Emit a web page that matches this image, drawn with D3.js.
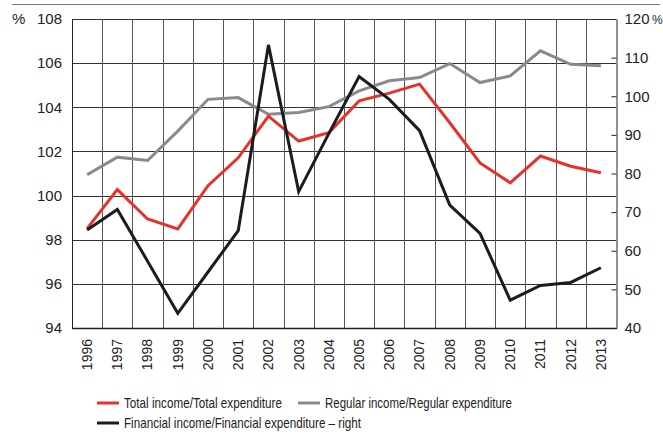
<html>
<head>
<meta charset="utf-8">
<script src="https://cdn.jsdelivr.net/npm/d3@7/dist/d3.min.js"></script>
<style>
  body { margin: 0; background: #fff; }
  text { font-family: "Liberation Sans", sans-serif; fill: #222; }
</style>
</head>
<body>
<script>
var width = 663, height = 437;
var margin = {top: 19, right: 47, bottom: 109, left: 72};

var years = ["1996","1997","1998","1999","2000","2001","2002","2003","2004","2005","2006","2007","2008","2009","2010","2011","2012","2013"];
var totalRatio = [98.5, 100.27, 98.94, 98.49, 100.45, 101.71, 103.6, 102.47, 102.85, 104.29, 104.64, 105.05, 103.3, 101.48, 100.58, 101.79, 101.33, 101.03];
var regularRatio = [100.94, 101.74, 101.59, 102.92, 104.36, 104.44, 103.68, 103.76, 104.03, 104.74, 105.2, 105.35, 105.98, 105.12, 105.42, 106.56, 105.95, 105.88];
var financialRatio = [65.4, 70.7, 57.3, 43.8, 54.5, 65.2, 113.3, 75.3, 90.4, 105.1, 99.2, 91.1, 71.8, 64.5, 47.2, 51.0, 51.8, 55.6];
var leftTicks = [94, 96, 98, 100, 102, 104, 106, 108];
var rightTicks = [40, 50, 60, 70, 80, 90, 100, 110, 120];

var svg = d3.select("body").append("svg")
  .attr("width", width)
  .attr("height", height);

var x0 = margin.left, x1 = width - margin.right;
var y0 = height - margin.bottom, y1 = margin.top;

var x = d3.scaleBand().domain(years).range([x0, x1]);
var yL = d3.scaleLinear().domain([94, 108]).range([y0, y1]);
var yR = d3.scaleLinear().domain([40, 120]).range([y0, y1]);

// top rule
svg.append("line")
  .attr("x1", 12).attr("x2", 660)
  .attr("y1", 4.5).attr("y2", 4.5)
  .attr("stroke", "#777").attr("stroke-width", 1);

// grid - horizontal
svg.append("g").selectAll("line")
  .data(leftTicks)
  .enter().append("line")
  .attr("x1", x0).attr("x2", x1)
  .attr("y1", function(d){ return Math.round(yL(d)) + 0.5; })
  .attr("y2", function(d){ return Math.round(yL(d)) + 0.5; })
  .attr("stroke", "#333").attr("stroke-width", 1);

// grid - vertical, on category boundaries
svg.append("g").selectAll("line")
  .data(years.slice(1))
  .enter().append("line")
  .attr("x1", function(d){ return Math.round(x(d)) + 0.5; })
  .attr("x2", function(d){ return Math.round(x(d)) + 0.5; })
  .attr("y1", y1).attr("y2", y0)
  .attr("stroke", "#555").attr("stroke-width", 1);

// frame
svg.append("line").attr("x1", x0 + 0.5).attr("x2", x0 + 0.5).attr("y1", y1).attr("y2", y0)
  .attr("stroke", "#222");
svg.append("line").attr("x1", x0).attr("x2", x1 + 1).attr("y1", y0 + 0.5).attr("y2", y0 + 0.5)
  .attr("stroke", "#222").attr("stroke-width", 1.5);

// left axis
var leftAxis = svg.append("g")
  .attr("transform", "translate(" + x0 + ",0)")
  .call(d3.axisLeft(yL).tickValues(leftTicks).tickSize(0).tickPadding(10).tickFormat(d3.format("d")));
leftAxis.select(".domain").remove();
leftAxis.selectAll("text").style("font-size", "15px").attr("fill", "#222")
  .style("font-family", "'Liberation Sans', sans-serif");

// right axis
var rightAxis = svg.append("g")
  .attr("transform", "translate(" + (x1 + 0.5) + ",0)")
  .call(d3.axisRight(yR).tickValues(rightTicks).tickSizeInner(-5).tickSizeOuter(0).tickPadding(8)
    .tickFormat(d3.format("d")));
rightAxis.select(".domain").attr("stroke", "#222");
rightAxis.selectAll(".tick line").attr("stroke", "#222");
rightAxis.selectAll("text").style("font-size", "15px").attr("fill", "#222")
  .style("font-family", "'Liberation Sans', sans-serif");

// % unit labels
svg.append("text").attr("x", 12).attr("y", 24).style("font-size", "15px").text("%");
svg.append("text").attr("x", 652).attr("y", yR(120) + 5).style("font-size", "12px").text("%");

// bottom year labels
var bottomAxis = svg.append("g")
  .attr("transform", "translate(0," + y0 + ")")
  .call(d3.axisBottom(x).tickSize(0).tickPadding(0));
bottomAxis.select(".domain").remove();
bottomAxis.selectAll("text")
  .style("font-size", "14px")
  .style("font-family", "'Liberation Sans', sans-serif")
  .attr("fill", "#222")
  .attr("text-anchor", "end")
  .attr("dy", "0.35em")
  .attr("transform", "translate(0,11) rotate(-90)")
  .attr("x", 0).attr("y", 0);

// lines
function series(vals, scale, color) {
  var line = d3.line()
    .x(function(d, i){ return x(years[i]) + x.bandwidth() / 2; })
    .y(function(d){ return scale(d); });
  svg.append("path")
    .datum(vals)
    .attr("d", line)
    .attr("fill", "none")
    .attr("stroke", color)
    .attr("stroke-width", 3)
    .attr("stroke-linejoin", "miter");
}
series(regularRatio, yL, "#8a8a8a");
series(totalRatio, yL, "#e5322a");
series(financialRatio, yR, "#1c1c1c");

// legend (reference font is condensed, so squeeze text to its width)
var legend = [
  {label: "Total income/Total expenditure", color: "#e5322a", x: 97, y: 403, w: 158},
  {label: "Regular income/Regular expenditure", color: "#8a8a8a", x: 298, y: 403, w: 187},
  {label: "Financial income/Financial expenditure \u2013 right", color: "#1c1c1c", x: 97, y: 423, w: 237}
];
var lg = svg.append("g").selectAll("g").data(legend).enter().append("g");
lg.append("line")
  .attr("x1", function(d){ return d.x; }).attr("x2", function(d){ return d.x + 22; })
  .attr("y1", function(d){ return d.y; }).attr("y2", function(d){ return d.y; })
  .attr("stroke", function(d){ return d.color; }).attr("stroke-width", 3);
lg.append("text")
  .attr("x", function(d){ return d.x + 27; })
  .attr("y", function(d){ return d.y + 5; })
  .attr("textLength", function(d){ return d.w; })
  .attr("lengthAdjust", "spacingAndGlyphs")
  .style("font-size", "15px")
  .text(function(d){ return d.label; });
</script>
</body>
</html>
